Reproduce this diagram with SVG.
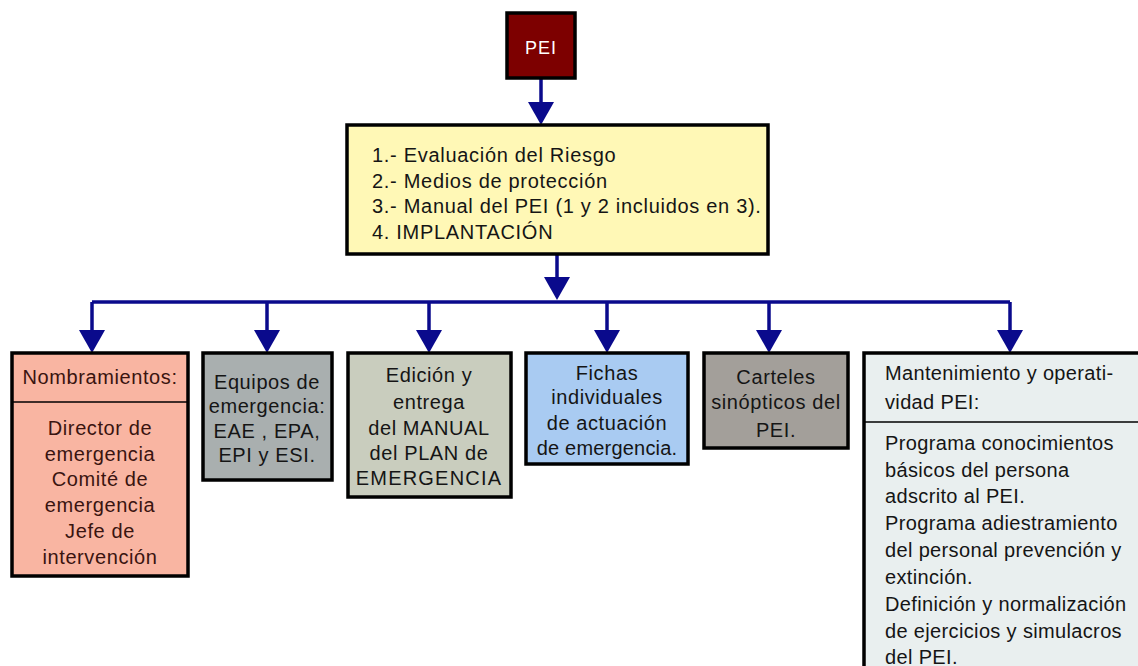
<svg xmlns="http://www.w3.org/2000/svg" width="1138" height="666" viewBox="0 0 1138 666">
<style>
text{font-family:"Liberation Sans",Arial,Helvetica,sans-serif;font-size:20px;fill:#151515;letter-spacing:0.6px}
.c{text-anchor:middle}
.m{letter-spacing:0.35px}
.box{stroke:#000;stroke-width:3.5}
.div{stroke:#000;stroke-width:1.6}
.con{fill:none;stroke:#0a0a8c;stroke-width:3.5;marker-end:url(#ah)}
.ln{fill:none;stroke:#0a0a8c;stroke-width:3.5}
</style>
<defs>
<marker id="ah" markerUnits="userSpaceOnUse" viewBox="0 0 23 26" refX="19" refY="13" markerWidth="23" markerHeight="26" orient="auto">
<path d="M0,0 L23,13 L0,26 Z" fill="#0a0a8c"/>
</marker>
</defs>
<rect width="1138" height="666" fill="#fff"/>
<g id="connectors">
<path class="con" d="M541,78 V121"/>
<path class="con" d="M557,254 V296"/>
<path class="ln" d="M92,302 H1010"/>
<path class="con" d="M92,302 V349"/>
<path class="con" d="M267,302 V349"/>
<path class="con" d="M429,302 V349"/>
<path class="con" d="M607,302 V349"/>
<path class="con" d="M769,302 V349"/>
<path class="con" d="M1010,302 V349"/>
</g>
<g id="pei">
<rect class="box" x="507" y="13" width="68" height="65" fill="#7d0000"/>
<text class="c" x="541" y="54" style="fill:#fff;font-size:18px;letter-spacing:1px">PEI</text>
</g>
<g id="fases">
<rect class="box" x="347" y="125" width="421" height="129" fill="#fff8b6"/>
<text x="372" y="162" style="letter-spacing:0.7px">1.- Evaluación del Riesgo</text>
<text x="372" y="188" style="letter-spacing:0.7px">2.- Medios de protección</text>
<text x="372" y="213" style="letter-spacing:0.7px">3.- Manual del PEI (1 y 2 incluidos en 3).</text>
<text x="372" y="239" style="letter-spacing:0.7px">4. IMPLANTACIÓN</text>
</g>
<g id="nombramientos">
<rect class="box" x="12" y="353" width="176" height="223" fill="#f9b5a2"/>
<line class="div" x1="12" y1="402" x2="188" y2="402"/>
<text class="c" x="100" y="384" style="fill:#3a1410">Nombramientos:</text>
<text class="c" x="100" y="435" style="fill:#3a1410">Director de</text>
<text class="c" x="100" y="461" style="fill:#3a1410">emergencia</text>
<text class="c" x="100" y="486" style="fill:#3a1410">Comité de</text>
<text class="c" x="100" y="512" style="fill:#3a1410">emergencia</text>
<text class="c" x="100" y="538" style="fill:#3a1410">Jefe de</text>
<text class="c" x="100" y="564" style="fill:#3a1410">intervención</text>
</g>
<g id="equipos">
<rect class="box" x="203" y="353" width="129" height="127" fill="#a9afaf"/>
<text class="c" x="267" y="389">Equipos de</text>
<text class="c" x="267" y="413">emergencia:</text>
<text class="c" x="267" y="438">EAE , EPA,</text>
<text class="c" x="267" y="462">EPI y ESI.</text>
</g>
<g id="edicion">
<rect class="box" x="348" y="353" width="163" height="144" fill="#c9cdbe"/>
<text class="c" x="429" y="382">Edición y</text>
<text class="c" x="429" y="409">entrega</text>
<text class="c" x="429" y="435">del MANUAL</text>
<text class="c" x="429" y="460">del PLAN de</text>
<text class="c" x="429" y="485" style="letter-spacing:1.2px">EMERGENCIA</text>
</g>
<g id="fichas">
<rect class="box" x="526" y="353" width="162" height="111" fill="#a9cbf2"/>
<text class="c" x="607" y="380">Fichas</text>
<text class="c" x="607" y="404">individuales</text>
<text class="c" x="607" y="430">de actuación</text>
<text class="c" x="607" y="455" style="letter-spacing:0.2px">de emergencia.</text>
</g>
<g id="carteles">
<rect class="box" x="704" y="353" width="144" height="95" fill="#a39f9a"/>
<text class="c" x="776" y="384">Carteles</text>
<text class="c" x="776" y="409">sinópticos del</text>
<text class="c" x="776" y="437">PEI.</text>
</g>
<g id="mantenimiento">
<rect class="box" x="864" y="353" width="290" height="330" fill="#e9efef"/>
<line class="div" x1="864" y1="422" x2="1138" y2="422"/>
<text class="m" x="885" y="380">Mantenimiento y operati-</text>
<text class="m" x="885" y="409">vidad PEI:</text>
<text class="m" x="885" y="450">Programa conocimientos</text>
<text class="m" x="885" y="477">básicos del persona</text>
<text class="m" x="885" y="503">adscrito al PEI.</text>
<text class="m" x="885" y="530">Programa adiestramiento</text>
<text class="m" x="885" y="557">del personal prevención y</text>
<text class="m" x="885" y="584">extinción.</text>
<text class="m" x="885" y="611">Definición y normalización</text>
<text class="m" x="885" y="638">de ejercicios y simulacros</text>
<text class="m" x="885" y="664">del PEI.</text>
</g>
</svg>
